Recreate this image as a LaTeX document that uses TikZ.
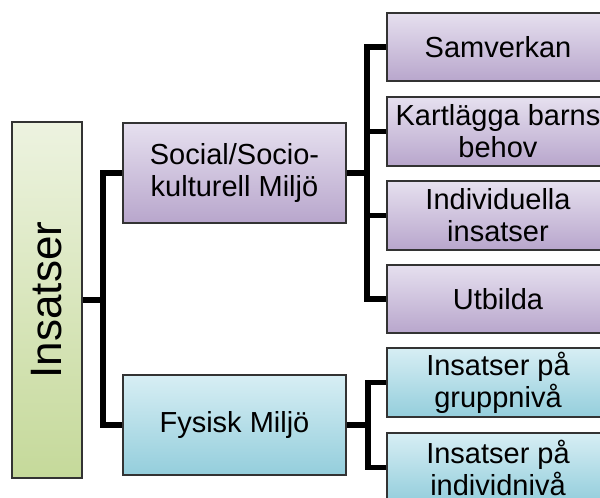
\documentclass[tikz,border=0pt]{standalone}
\usepackage{fontspec}
\setmainfont{Liberation Sans}
\usetikzlibrary{positioning}

\definecolor{lilatop}{HTML}{E6E0EF}
\definecolor{lilabot}{HTML}{B8A6CC}
\definecolor{blatop}{HTML}{D7EEF4}
\definecolor{blabot}{HTML}{94CEDC}
\definecolor{grontop}{HTML}{EDF3E0}
\definecolor{gronbot}{HTML}{C5D99A}
\definecolor{kant}{HTML}{333333}

\tikzset{
    box/.style={draw=kant, line width=1.5pt, inner sep=1pt, align=center,
        font=\fontsize{21.75}{24}\selectfont},
    social box/.style={box, top color=lilatop, bottom color=lilabot},
    fysisk box/.style={box, top color=blatop, bottom color=blabot},
    leaf/.style={minimum width=166.5pt, minimum height=51.5pt},
    link/.style={line width=4pt, black}
}

\begin{document}
\begin{tikzpicture}[x=0.75pt, y=-0.75pt]
                        \useasboundingbox (0, 0) rectangle (600, 497);
                        \path[clip] (0, 0) rectangle (600, 497);

                        \node[box, top color=grontop, bottom color=gronbot,
                            minimum width=52.5pt, minimum height=267pt,
                            font=\fontsize{33}{36}\selectfont]
                            (insatser) at (47, 300) {\rotatebox{90}{Insatser}};

                        \node[social box, minimum width=167.25pt, minimum height=75pt]
                            (social) at (234.5, 173) {Social/Socio-\\kulturell Miljö};
                        \node[fysisk box, minimum width=167.25pt, minimum height=75pt]
                            (fysisk) at (234.5, 425) {Fysisk Miljö};

                        \node[social box, leaf] (samverkan) at (498, 47) {Samverkan};
                        \node[social box, leaf] (kartlagga) at (498, 131.5) {Kartlägga barns\\behov};
                        \node[social box, leaf] (individuella) at (498, 215.5) {Individuella\\insatser};
                        \node[social box, leaf] (utbilda) at (498, 299) {Utbilda};

                        \node[fysisk box, leaf] (grupp) at (498, 382.5) {Insatser på\\gruppnivå};
                        \node[fysisk box, leaf] (individ) at (498, 467.5) {Insatser på\\individnivå};

                        \draw[link]
                        (insatser.east) -- ++(20, 0) |- (social.west)
                        (insatser.east) -- ++(20, 0) |- (fysisk.west);
                        \foreach \leafname in {samverkan, kartlagga, individuella, utbilda}
                            \draw[link] (social.east) -- ++(20, 0) |- (\leafname.west);
                        \foreach \leafname in {grupp, individ}
                            \draw[link] (fysisk.east) -- ++(21, 0) |- (\leafname.west);
                    \end{tikzpicture}
\end{document}
